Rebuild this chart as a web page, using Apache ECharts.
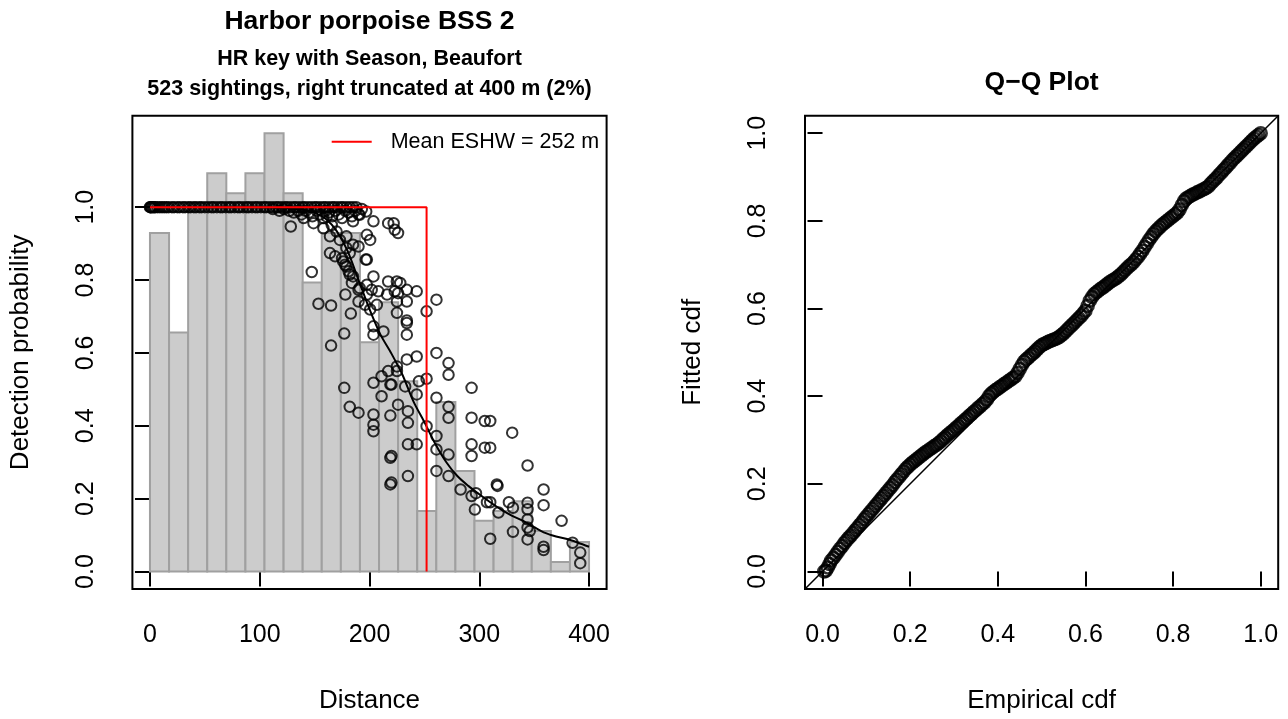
<!DOCTYPE html>
<html><head><meta charset="utf-8">
<script src="https://cdn.jsdelivr.net/npm/echarts@6/dist/echarts.min.js"></script>
<style>html,body{margin:0;padding:0;background:#fff}#chart{width:1288px;height:719px}</style>
</head><body><div id="chart"></div>
<script>
// ---------- data ----------
const histBreaks = [0,17.39,34.78,52.17,69.57,86.96,104.35,121.74,139.13,156.52,173.91,191.30,208.70,226.09,243.48,260.87,278.26,295.65,313.04,330.43,347.83,365.22,382.61,400];
const histHeights = [0.929,0.656,1.011,1.093,1.038,1.093,1.203,1.038,0.793,0.929,0.929,0.629,0.739,0.522,0.166,0.465,0.276,0.139,0.166,0.193,0.111,0.026,0.081];

const bandDist = [0,0.5,1,2,3,4,5,7,9,11,13,15,17,20,22,25,27,30,32,35,37,40,42,45,47,50,53,56,58,61,64,66,69,72,74,77,80,82,85,88,90,93,96,98,101,104,106,109,112,115,117,120,123,125,128,131,133,136,139,141,144,147,150,152,155,158,160,163,166,168,171,174,176,179,182,185,188];

const detPts = [
 [112,0.995],[118,0.99],[122,0.995],[127,0.99],[131,0.985],[135,0.99],[138,0.98],[142,0.99],[145,0.985],[148,0.975],[152,0.99],[155,0.98],[158,0.97],[160,0.99],[163,0.985],[166,0.975],[169,0.99],[172,0.98],[175,0.97],[178,0.99],[181,0.985],[184,0.975],[187,0.99],[190,0.98],[193,0.995],[197,0.988],
 [128.3,0.947],[147.4,0.822],[149,0.956],[140,0.97],[161,0.974],[158,0.942],[165.6,0.951],[170,0.933],[164,0.92],[173,0.91],[179,0.92],[185,0.961],[191,0.979],[203.6,0.961],[217,0.956],[223,0.938],[222,0.956],[226,0.929],[179,0.888],[185,0.897],[190,0.892],[197.6,0.924],[200.6,0.91],[182,0.874],[164,0.874],[168.7,0.865],[176,0.851],[179,0.837],[181,0.824],[185,0.81],[184,0.792],[191,0.778],[197.6,0.76],[197.6,0.787],[202,0.773],[208,0.769],[216,0.76],[217,0.796],[206.7,0.732],[196,0.732],[200.6,0.719],[190,0.741],[197.6,0.856],[203.6,0.81],[183,0.708],[153.5,0.735],[165,0.73],[175,0.86],[177.8,0.842],[182,0.815],[190,0.773],[178,0.76],[196.6,0.856],
 [224.9,0.796],[228,0.792],[234,0.773],[243,0.769],[226,0.764],[234,0.741],[252,0.714],[261,0.746],[225,0.71],[234,0.689],[223,0.769],[225,0.741],
 [234,0.682],[234,0.65],[261,0.6],[272,0.572],[272,0.54],[243,0.59],[234,0.582],[225,0.55],[252,0.529],[245,0.522],[220,0.513],[232.5,0.508],[243,0.486],[261,0.477],[293,0.504],[226,0.458],[235,0.44],[235,0.408],[272,0.452],[272,0.422],[293,0.422],[305,0.413],[252,0.399],[261,0.372],[235,0.349],[243,0.349],[261,0.335],[272,0.321],[293,0.349],[293,0.317],[305,0.34],[220,0.317],[235,0.262],[261,0.276],[272,0.262],[283,0.225],[293,0.207],[316,0.239],[220,0.244],
 [177,0.653],[165,0.62],[203.6,0.673],[212.7,0.659],[203.6,0.65],[225,0.563],[217,0.55],[211,0.536],[203.6,0.518],[219,0.513],[177,0.504],[211,0.481],[182,0.452],[190,0.436],[203.6,0.431],[219,0.428],[203.6,0.403],[203.6,0.385],[219,0.312],[219,0.239],
 [310,0.413],[330,0.381],[310,0.34],[344,0.291],[316.6,0.235],[358.6,0.225],[358.6,0.182],[344,0.189],[344,0.171],[344,0.143],[344,0.121],[346,0.111],[344,0.088],[330.7,0.175],[317.5,0.162],[310,0.19],[330.7,0.109],[310,0.09],[375,0.139],[358.6,0.068],[358.6,0.059],[385,0.079],[392,0.052],[392,0.023],
 [297,0.215],[307,0.19],[296,0.17],[327,0.19]
];

const curveDist = [0,50,100,120,140,150,160,170,180,190,200,210,220,230,240,250,260,270,280,290,300,310,320,330,340,350,360,370,380,390,400];
const curveProb = [1,1,1,0.998,0.993,0.985,0.968,0.935,0.88,0.80,0.72,0.65,0.598,0.54,0.467,0.41,0.35,0.30,0.262,0.235,0.212,0.19,0.17,0.153,0.139,0.122,0.106,0.096,0.089,0.079,0.068];

const meanESHW = 252;

// [empirical cdf, fitted cdf]
const qqPts = [
 [0.004,0.000],[0.008,0.002],[0.012,0.009],[0.016,0.017],[0.02,0.025],[0.025,0.031],[0.03,0.038],[0.035,0.045],[0.04,0.052],[0.045,0.058],
 [0.05,0.065],[0.055,0.071],[0.06,0.077],[0.065,0.082],[0.07,0.088],[0.075,0.094],[0.08,0.100],[0.085,0.106],[0.09,0.112],[0.095,0.119],
 [0.10,0.125],[0.105,0.131],[0.11,0.137],[0.115,0.143],[0.12,0.149],[0.125,0.155],[0.13,0.161],[0.135,0.167],[0.14,0.173],[0.145,0.179],
 [0.15,0.185],[0.155,0.191],[0.16,0.197],[0.165,0.204],[0.17,0.210],[0.175,0.216],[0.18,0.222],[0.185,0.228],[0.19,0.234],[0.195,0.239],
 [0.20,0.244],[0.205,0.248],[0.21,0.252],[0.215,0.256],[0.22,0.260],[0.225,0.264],[0.23,0.268],[0.235,0.272],[0.24,0.275],[0.245,0.279],
 [0.25,0.282],[0.255,0.286],[0.26,0.289],[0.265,0.293],[0.27,0.297],[0.275,0.302],[0.28,0.306],[0.285,0.311],[0.29,0.315],[0.295,0.319],
 [0.30,0.323],[0.305,0.328],[0.31,0.332],[0.315,0.337],[0.32,0.341],[0.325,0.346],[0.33,0.350],[0.335,0.355],[0.34,0.359],[0.345,0.364],
 [0.35,0.368],[0.355,0.373],[0.36,0.377],[0.365,0.382],[0.37,0.386],[0.375,0.392],[0.38,0.400],[0.385,0.406],[0.39,0.410],[0.395,0.414],
 [0.40,0.417],[0.405,0.421],[0.41,0.424],[0.415,0.428],[0.42,0.431],[0.425,0.435],[0.43,0.438],[0.435,0.442],[0.44,0.445],[0.445,0.453],
 [0.45,0.462],[0.455,0.471],[0.46,0.479],[0.465,0.484],[0.47,0.488],[0.475,0.493],[0.48,0.497],[0.485,0.502],[0.49,0.507],[0.495,0.512],
 [0.50,0.516],[0.505,0.519],[0.51,0.521],[0.515,0.524],[0.52,0.526],[0.525,0.528],[0.53,0.530],[0.535,0.532],[0.54,0.535],[0.545,0.539],
 [0.55,0.543],[0.555,0.548],[0.56,0.553],[0.565,0.558],[0.57,0.563],[0.575,0.568],[0.58,0.573],[0.585,0.578],[0.59,0.583],[0.595,0.589],
 [0.60,0.595],[0.605,0.606],[0.61,0.618],[0.615,0.626],[0.62,0.633],[0.625,0.637],[0.63,0.641],[0.635,0.645],[0.64,0.648],[0.645,0.652],
 [0.65,0.656],[0.655,0.660],[0.66,0.663],[0.665,0.666],[0.67,0.669],[0.675,0.673],[0.68,0.677],[0.685,0.682],[0.69,0.687],[0.695,0.692],
 [0.70,0.697],[0.705,0.701],[0.71,0.706],[0.715,0.712],[0.72,0.718],[0.725,0.725],[0.73,0.732],[0.735,0.740],[0.74,0.748],[0.745,0.756],
 [0.75,0.763],[0.755,0.770],[0.76,0.776],[0.765,0.781],[0.77,0.786],[0.775,0.791],[0.78,0.795],[0.785,0.799],[0.79,0.803],[0.795,0.807],
 [0.80,0.811],[0.805,0.815],[0.81,0.819],[0.815,0.826],[0.82,0.836],[0.825,0.845],[0.83,0.851],[0.835,0.854],[0.84,0.857],[0.845,0.860],
 [0.85,0.862],[0.855,0.865],[0.86,0.867],[0.865,0.870],[0.87,0.872],[0.875,0.875],[0.88,0.878],[0.885,0.884],[0.89,0.889],[0.895,0.894],
 [0.90,0.899],[0.905,0.905],[0.91,0.910],[0.915,0.916],[0.92,0.921],[0.925,0.927],[0.93,0.932],[0.935,0.938],[0.94,0.943],[0.945,0.948],
 [0.95,0.953],[0.955,0.958],[0.96,0.963],[0.965,0.968],[0.97,0.973],[0.975,0.978],[0.98,0.983],[0.985,0.988],[0.99,0.992],[0.995,0.996],[1.00,1.000]
];

const distTicks = [0,100,200,300,400];
const probTicks = [0,0.2,0.4,0.6,0.8,1.0];
const cdfTicks = [0,0.2,0.4,0.6,0.8,1.0];

// ---------- chart ----------
const FONT = 'Liberation Sans, Arial, Helvetica, sans-serif';
const chart = echarts.init(document.getElementById('chart'), null, {renderer:'canvas', width:1288, height:719});

function axisCommon(ticks, fmt, rot){
  return {
    axisLine:{show:false},
    splitLine:{show:false},
    axisTick:{show:true, inside:false, length:15, lineStyle:{color:'#000', width:2}, customValues:ticks},
    axisLabel:{customValues:ticks, formatter:fmt, margin:34, rotate:rot||0, fontSize:25, color:'#000', fontFamily:FONT},
    nameLocation:'middle', nameGap:99,
    nameTextStyle:{fontSize:26, color:'#000', fontFamily:FONT}
  };
}
const f0 = v => String(Math.round(v));
const f1 = v => Number(v).toFixed(1);

const option = {
  animation:false,
  backgroundColor:'#fff',
  grid:[
    {left:132.4, top:115.7, width:474.2, height:474.1, show:true, borderColor:'#000', borderWidth:2, backgroundColor:'transparent'},
    {left:805, top:115.7, width:473.2, height:474.1, show:true, borderColor:'#000', borderWidth:2, backgroundColor:'transparent'}
  ],
  xAxis:[
    Object.assign({gridIndex:0, type:'value', min:-16, max:416, name:'Distance'}, axisCommon(distTicks, f0)),
    Object.assign({gridIndex:1, type:'value', min:-0.04, max:1.04, name:'Empirical cdf'}, axisCommon(cdfTicks, f1))
  ],
  yAxis:[
    Object.assign({gridIndex:0, type:'value', min:-0.048, max:1.251, name:'Detection probability'}, axisCommon(probTicks, f1, 90)),
    Object.assign({gridIndex:1, type:'value', min:-0.04, max:1.04, name:'Fitted cdf'}, axisCommon(cdfTicks, f1, 90))
  ],
  series:[
    {
      type:'custom', xAxisIndex:0, yAxisIndex:0, z:1, silent:true,
      data: histHeights.map((h,i)=>[histBreaks[i], histBreaks[i+1], h]),
      renderItem:function(params, api){
        const p0 = api.coord([api.value(0), api.value(2)]);
        const p1 = api.coord([api.value(1), 0]);
        return {type:'rect', shape:{x:p0[0], y:p0[1], width:p1[0]-p0[0], height:p1[1]-p0[1]},
          style:{fill:'#cccccc', stroke:'#a0a0a0', lineWidth:2}};
      }
    },
    {
      type:'scatter', xAxisIndex:0, yAxisIndex:0, z:2, silent:true,
      symbol:'circle', symbolSize:10.5,
      itemStyle:{color:'rgba(0,0,0,0)', borderColor:'#000', borderWidth:2},
      data: bandDist.map(d=>[d,1]).concat(detPts)
    },
    {
      type:'line', xAxisIndex:0, yAxisIndex:0, z:3, silent:true, showSymbol:false, smooth:0.3,
      lineStyle:{color:'#000', width:2},
      data: curveDist.map((d,i)=>[d, curveProb[i]])
    },
    {
      type:'line', xAxisIndex:0, yAxisIndex:0, z:4, silent:true, showSymbol:false,
      lineStyle:{color:'#ff0000', width:2},
      data: [[0,1],[meanESHW,1],[meanESHW,0]]
    },
    {
      type:'line', xAxisIndex:1, yAxisIndex:1, z:2, silent:true, showSymbol:false,
      lineStyle:{color:'#000', width:1.5},
      data: [[-0.04,-0.04],[1.04,1.04]]
    },
    {
      type:'scatter', xAxisIndex:1, yAxisIndex:1, z:3, silent:true,
      symbol:'circle', symbolSize:12,
      itemStyle:{color:'rgba(0,0,0,0)', borderColor:'#000', borderWidth:2.6},
      data: qqPts
    }
  ],
  graphic:[
    {type:'text', x:369.5, y:22, style:{text:'Harbor porpoise BSS 2', font:'bold 26.5px '+FONT, fill:'#000', textAlign:'center', textVerticalAlign:'middle'}},
    {type:'text', x:369.5, y:59, style:{text:'HR key with Season, Beaufort', font:'bold 21.5px '+FONT, fill:'#000', textAlign:'center', textVerticalAlign:'middle'}},
    {type:'text', x:369.5, y:89, style:{text:'523 sightings, right truncated at 400 m (2%)', font:'bold 21.5px '+FONT, fill:'#000', textAlign:'center', textVerticalAlign:'middle'}},
    {type:'text', x:1041.6, y:83, style:{text:'Q\u2212Q Plot', font:'bold 26.5px '+FONT, fill:'#000', textAlign:'center', textVerticalAlign:'middle'}},
    {type:'line', shape:{x1:331.7, y1:141.7, x2:371.7, y2:141.7}, style:{stroke:'#ff0000', lineWidth:2}},
    {type:'text', x:390.7, y:141.7, style:{text:'Mean ESHW = 252 m', font:'21.5px '+FONT, fill:'#000', textAlign:'left', textVerticalAlign:'middle'}}
  ]
};
chart.setOption(option);
</script>
</body></html>
